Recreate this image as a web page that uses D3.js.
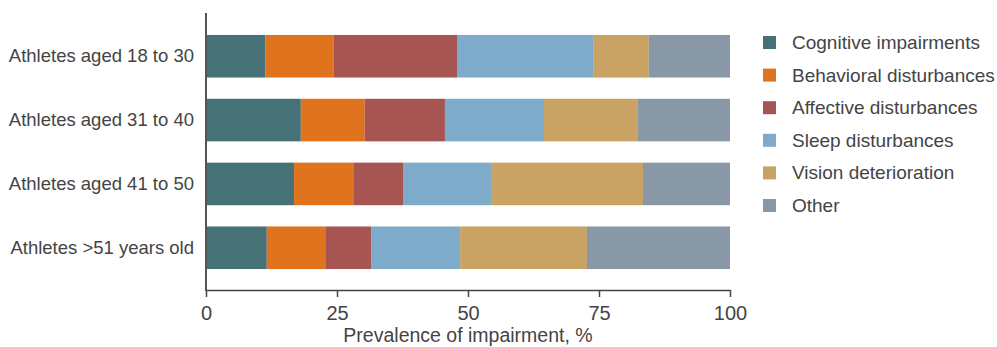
<!DOCTYPE html>
<html>
<head>
<meta charset="utf-8">
<script src="https://cdn.jsdelivr.net/npm/d3@7"></script>
<style>
  html, body { margin: 0; padding: 0; background: #fff; }
  svg { display: block; }
  text { font-family: "Liberation Sans", Arial, Helvetica, sans-serif; fill: #444; }
</style>
</head>
<body>
<svg id="chart" width="997" height="347"></svg>
<script>
const groups = ["Athletes aged 18 to 30", "Athletes aged 31 to 40", "Athletes aged 41 to 50", "Athletes >51 years old"];
const seriesNames = ["Cognitive impairments", "Behavioral disturbances", "Affective disturbances", "Sleep disturbances", "Vision deterioration", "Other"];
const cognitive  = [11.3, 18.1, 16.8, 11.6];
const behavioral = [13.1, 12.2, 11.3, 11.3];
const affective  = [23.5, 15.3,  9.5,  8.6];
const sleep      = [26.1, 18.9, 16.8, 17.0];
const vision     = [10.5, 17.8, 29.0, 24.2];
const other      = [15.5, 17.7, 16.6, 27.3];
const xTicks = [0, 25, 50, 75, 100];
const colors = ["#467176", "#e0731d", "#a65553", "#7eabca", "#c9a363", "#8898a6"];
const xTitle = "Prevalence of impairment, %";

const seriesValues = [cognitive, behavioral, affective, sleep, vision, other];
const rows = groups.map((g, i) => {
  const r = { group: g };
  seriesNames.forEach((s, j) => r[s] = seriesValues[j][i]);
  return r;
});
const stacked = d3.stack().keys(seriesNames)(rows);

const svg = d3.select("#chart");
const x = d3.scaleLinear().domain([0, 100]).range([206, 730]);
const y = d3.scaleBand().domain(groups).range([13, 291]).paddingInner(0.333).paddingOuter(0.344);
const color = d3.scaleOrdinal().domain(seriesNames).range(colors);

// bars
svg.append("g").selectAll("g").data(stacked).join("g")
  .attr("fill", d => color(d.key))
  .selectAll("rect").data(d => d).join("rect")
  .attr("x", d => x(d[0]))
  .attr("y", d => y(d.data.group))
  .attr("width", d => x(d[1]) - x(d[0]))
  .attr("height", y.bandwidth());

// x axis
const xAxis = svg.append("g").attr("transform", "translate(0,290)")
  .call(d3.axisBottom(x).tickValues(xTicks).tickSize(7).tickPadding(9).tickSizeOuter(0));
xAxis.select(".domain").attr("stroke", "#444").attr("stroke-width", 1.5);
xAxis.selectAll(".tick line").attr("stroke", "#444").attr("stroke-width", 1.5);
xAxis.selectAll(".tick text").attr("font-size", 20).attr("fill", "#444")
  .attr("font-family", "'Liberation Sans', Arial, sans-serif");

// y axis
const yAxis = svg.append("g").attr("transform", "translate(206,0)")
  .call(d3.axisLeft(y).tickSize(0).tickPadding(12));
yAxis.select(".domain").remove();
yAxis.selectAll(".tick text").attr("font-size", 18.5).attr("fill", "#444")
  .attr("font-family", "'Liberation Sans', Arial, sans-serif");
svg.append("line").attr("x1", 206).attr("x2", 206).attr("y1", 13).attr("y2", 291)
  .attr("stroke", "#555").attr("stroke-width", 2);

// x title
svg.append("text").attr("x", 468).attr("y", 342).attr("text-anchor", "middle")
  .attr("font-size", 19.5).text(xTitle);

// legend
const legend = svg.append("g").selectAll("g").data(seriesNames).join("g")
  .attr("transform", (d, i) => `translate(763,${42.5 + i * 32.6})`);
legend.append("rect").attr("x", 0).attr("y", -6.5).attr("width", 13).attr("height", 13)
  .attr("fill", d => color(d));
legend.append("text").attr("x", 29).attr("y", 6.5).attr("font-size", 19).text(d => d);
</script>
</body>
</html>
